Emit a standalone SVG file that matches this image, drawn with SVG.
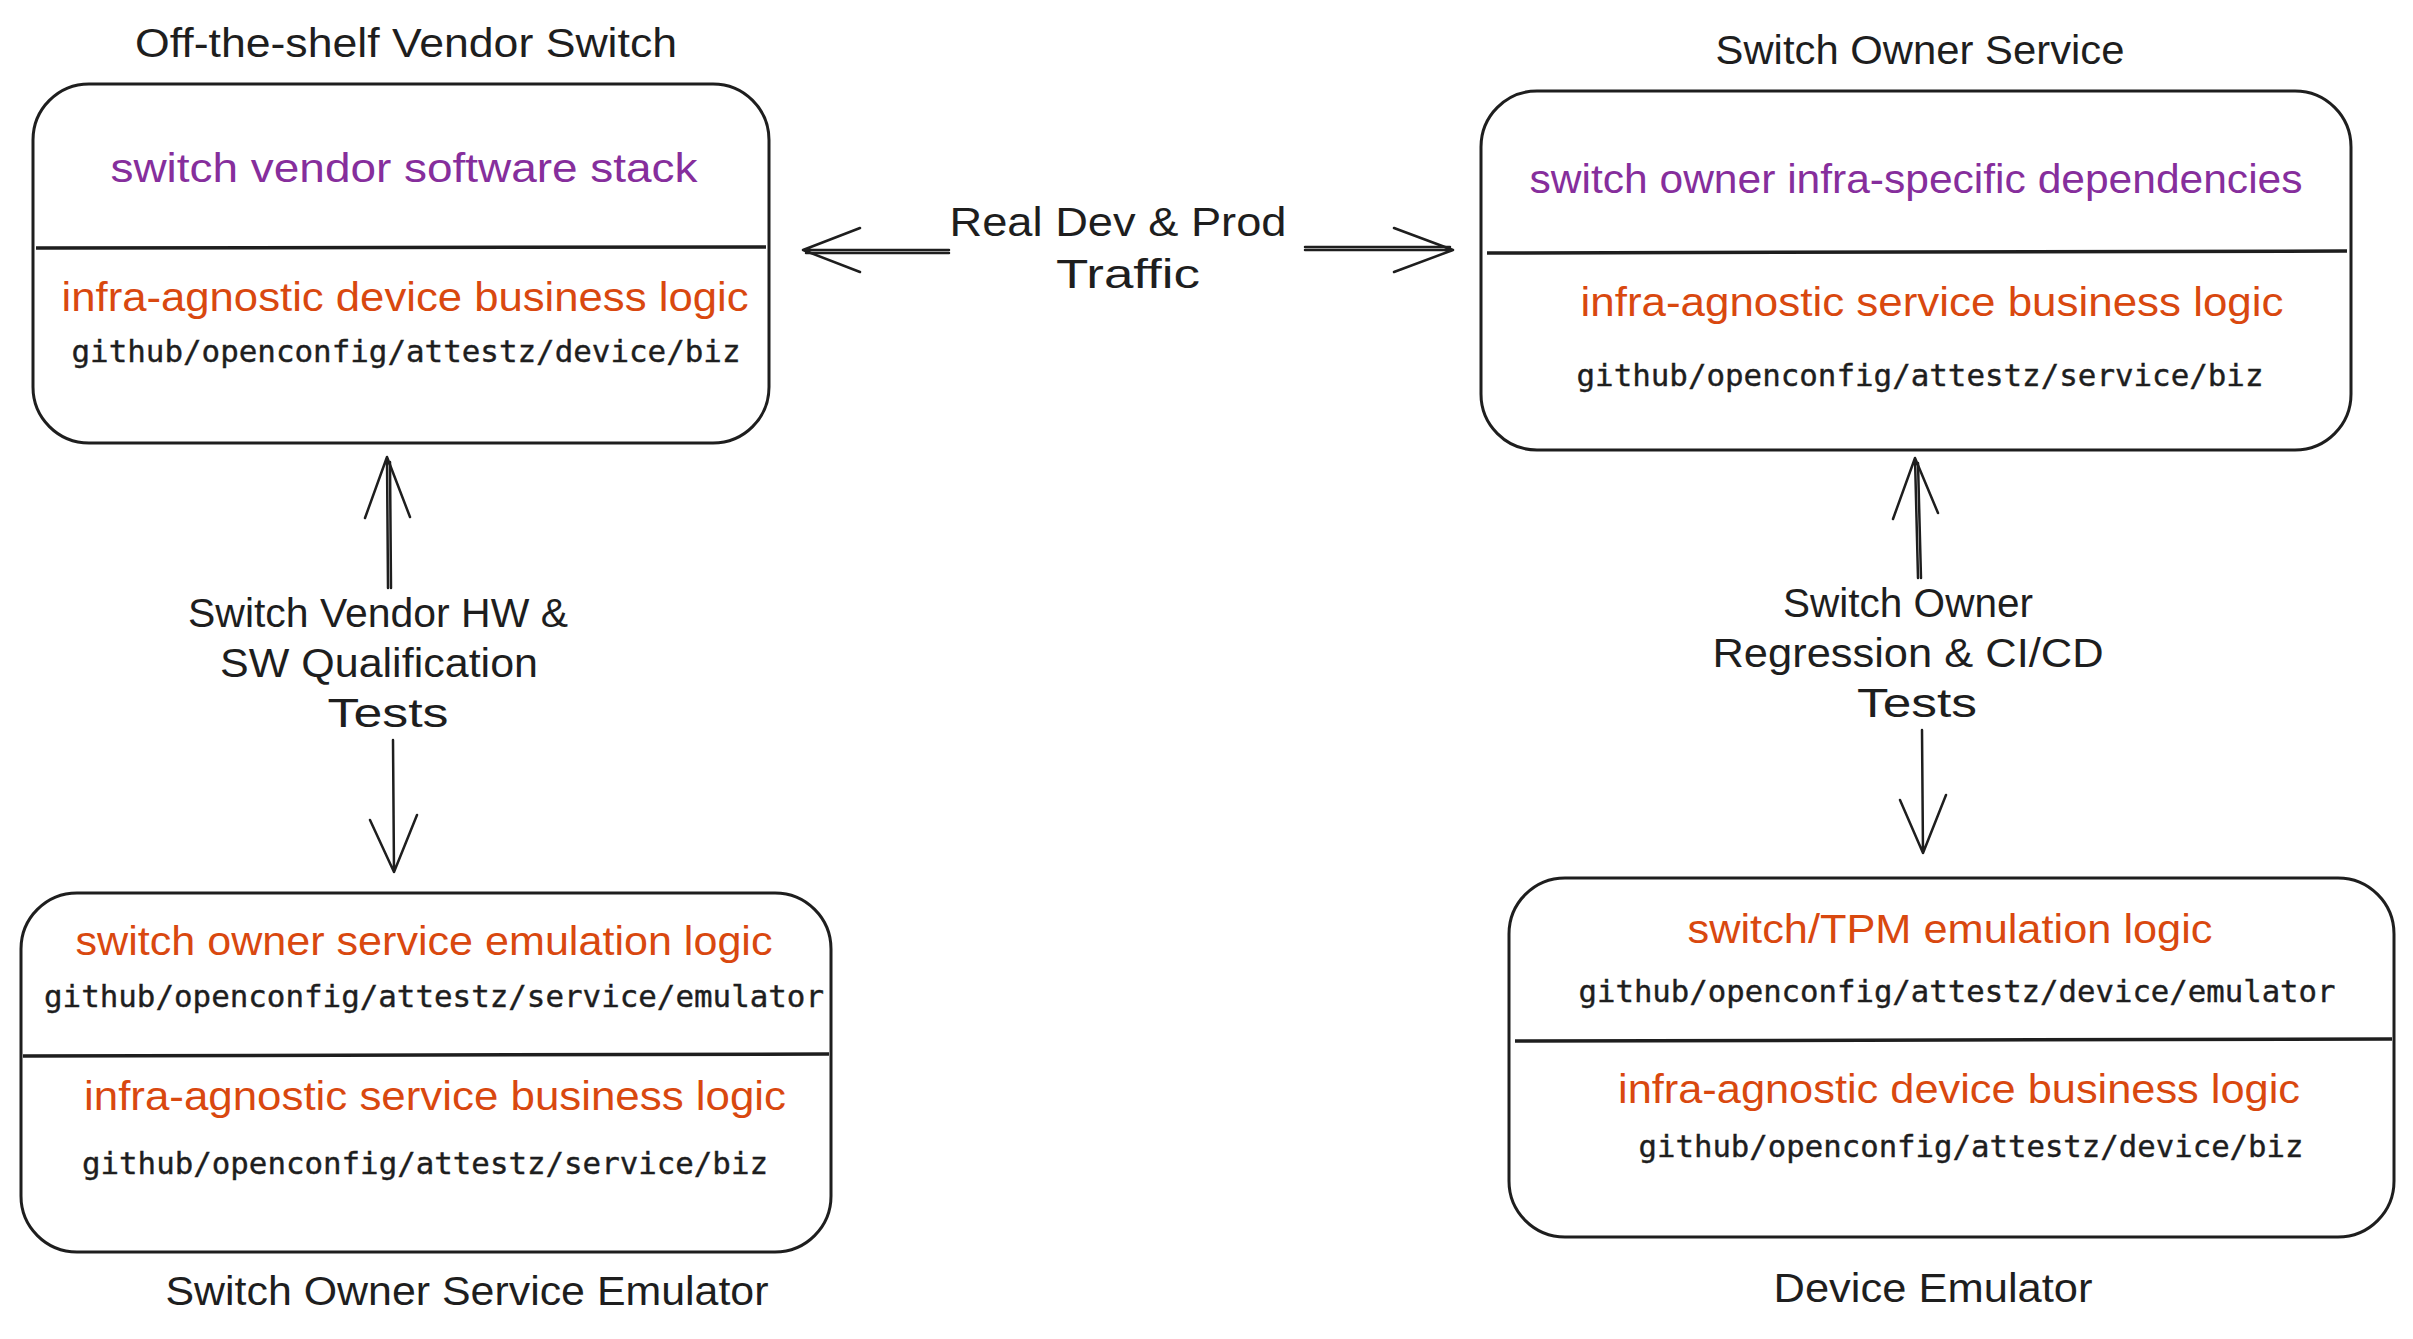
<svg xmlns="http://www.w3.org/2000/svg" width="2413" height="1339" viewBox="0 0 2413 1339">
<style>
.box{fill:#fff;stroke:#1e1e1e;stroke-width:3}
.div{stroke:#1e1e1e;stroke-width:3.5;fill:none}
.hand{font-family:"Liberation Sans","Open Sans",sans-serif;font-size:40px;text-anchor:middle}
.lbl{fill:#1e1e1e}
.purple{fill:#862e9c}
.orange{fill:#d9480f}
.mono{font-family:"DejaVu Sans Mono","Liberation Mono",monospace;font-size:31px;text-anchor:middle;fill:#1e1e1e;stroke:#1e1e1e;stroke-width:0.4}
.conn{stroke:#1e1e1e;stroke-width:2.5;fill:none;stroke-linecap:round;stroke-linejoin:round}
</style>
<rect width="2413" height="1339" fill="#fff"/>

<g id="vendor-switch">
<rect class="box" x="33" y="84" width="736" height="359" rx="56"/>
<line class="div" x1="36" y1="248" x2="766" y2="247"/>
<text class="hand lbl" x="406" y="57" textLength="542" lengthAdjust="spacingAndGlyphs">Off-the-shelf Vendor Switch</text>
<text class="hand purple" x="404" y="182" textLength="587" lengthAdjust="spacingAndGlyphs">switch vendor software stack</text>
<text class="hand orange" x="405" y="311" textLength="687" lengthAdjust="spacingAndGlyphs">infra-agnostic device business logic</text>
<text class="mono" x="406" y="362" textLength="669" lengthAdjust="spacingAndGlyphs">github/openconfig/attestz/device/biz</text>
</g>

<g id="owner-service">
<rect class="box" x="1481" y="91" width="870" height="359" rx="56"/>
<line class="div" x1="1487" y1="253" x2="2347" y2="251"/>
<text class="hand lbl" x="1920" y="64" textLength="409" lengthAdjust="spacingAndGlyphs">Switch Owner Service</text>
<text class="hand purple" x="1916" y="193" textLength="773" lengthAdjust="spacingAndGlyphs">switch owner infra-specific dependencies</text>
<text class="hand orange" x="1932" y="316" textLength="703" lengthAdjust="spacingAndGlyphs">infra-agnostic service business logic</text>
<text class="mono" x="1920" y="386" textLength="687" lengthAdjust="spacingAndGlyphs">github/openconfig/attestz/service/biz</text>
</g>

<g id="service-emulator">
<rect class="box" x="21" y="893" width="810" height="359" rx="56"/>
<line class="div" x1="23" y1="1056" x2="829" y2="1054"/>
<text class="hand orange" x="424" y="955" textLength="697" lengthAdjust="spacingAndGlyphs">switch owner service emulation logic</text>
<text class="mono" x="434" y="1007" textLength="780" lengthAdjust="spacingAndGlyphs">github/openconfig/attestz/service/emulator</text>
<text class="hand orange" x="435" y="1110" textLength="702" lengthAdjust="spacingAndGlyphs">infra-agnostic service business logic</text>
<text class="mono" x="425" y="1174" textLength="686" lengthAdjust="spacingAndGlyphs">github/openconfig/attestz/service/biz</text>
<text class="hand lbl" x="467" y="1305" textLength="603" lengthAdjust="spacingAndGlyphs">Switch Owner Service Emulator</text>
</g>

<g id="device-emulator">
<rect class="box" x="1509" y="878" width="885" height="359" rx="56"/>
<line class="div" x1="1515" y1="1041" x2="2392" y2="1039"/>
<text class="hand orange" x="1950" y="943" textLength="525" lengthAdjust="spacingAndGlyphs">switch/TPM emulation logic</text>
<text class="mono" x="1957" y="1002" textLength="757" lengthAdjust="spacingAndGlyphs">github/openconfig/attestz/device/emulator</text>
<text class="hand orange" x="1959" y="1103" textLength="682" lengthAdjust="spacingAndGlyphs">infra-agnostic device business logic</text>
<text class="mono" x="1971" y="1157" textLength="665" lengthAdjust="spacingAndGlyphs">github/openconfig/attestz/device/biz</text>
<text class="hand lbl" x="1933" y="1302" textLength="319" lengthAdjust="spacingAndGlyphs">Device Emulator</text>
</g>

<g id="connectors">
<path class="conn" d="M949 250 L803 250 M860 228 L803 250 L860 272"/>
<path class="conn" d="M949 253 L806 253"/>
<path class="conn" d="M1305 250 L1453 250 M1394 228 L1453 250 L1394 272"/>
<path class="conn" d="M1305 247 L1450 247"/>
<path class="conn" d="M388 588 L387 457 M365 518 L387 457 L410 517"/>
<path class="conn" d="M391 588 L390 462"/>
<path class="conn" d="M393 740 L394 872 M370 820 L394 872 L417 815"/>
<path class="conn" d="M1918 578 L1915 458 M1893 519 L1915 458 L1938 513"/>
<path class="conn" d="M1921 578 L1918 463"/>
<path class="conn" d="M1922 730 L1923 853 M1900 800 L1923 853 L1946 795"/>
</g>

<g id="labels">
<text class="hand lbl" x="1118" y="236" textLength="337" lengthAdjust="spacingAndGlyphs">Real Dev &amp; Prod</text>
<text class="hand lbl" x="1128" y="288" textLength="144" lengthAdjust="spacingAndGlyphs">Traffic</text>
<text class="hand lbl" x="378" y="627" textLength="380" lengthAdjust="spacingAndGlyphs">Switch Vendor HW &amp;</text>
<text class="hand lbl" x="379" y="677" textLength="318" lengthAdjust="spacingAndGlyphs">SW Qualification</text>
<text class="hand lbl" x="388" y="727" textLength="121" lengthAdjust="spacingAndGlyphs">Tests</text>
<text class="hand lbl" x="1908" y="617" textLength="250" lengthAdjust="spacingAndGlyphs">Switch Owner</text>
<text class="hand lbl" x="1908" y="667" textLength="391" lengthAdjust="spacingAndGlyphs">Regression &amp; CI/CD</text>
<text class="hand lbl" x="1917" y="717" textLength="120" lengthAdjust="spacingAndGlyphs">Tests</text>
</g>
</svg>
